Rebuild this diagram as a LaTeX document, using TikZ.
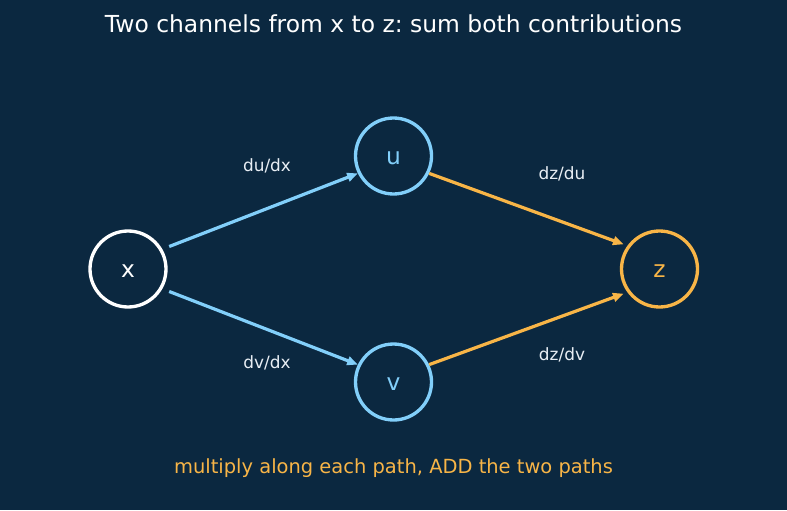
\documentclass[tikz,border=0pt]{standalone}
\usepackage{fontspec}
\setmainfont{DejaVu Sans}
\frenchspacing
\usetikzlibrary{arrows.meta}
\definecolor{navybg}{HTML}{0B2840}
\definecolor{skyline}{HTML}{82CFFA}
\definecolor{amberline}{HTML}{F8B547}
\definecolor{softwhite}{HTML}{E8EEF4}

\begin{document}
\begin{tikzpicture}[x=0.75pt,y=0.75pt,yscale=-1,xscale=1,
  var/.style={circle,draw,line width=2.5pt,minimum size=57pt,inner sep=0pt,text height=13.2pt,text depth=0pt,font=\fontsize{17.5}{21}\selectfont},
  chain/.style={line width=2.4pt,-{Triangle[length=8pt,width=6.5pt]}},
  lbl/.style={text=softwhite,font=\fontsize{12.7}{15}\selectfont}]
%set diagram left start at 0, and has height of 510
\fill [navybg] (0,0) rectangle (787,510) ;

% Text Node
\draw (393.5,24) node [text=white,font=\fontsize{17.55}{21}\selectfont] {Two channels from x to z: sum both contributions};

%Shape: Circle
\draw (128,269) node [var,draw=white,text=white] (x) {x};
%Shape: Circle
\draw (393.5,156) node [var,draw=skyline,text=skyline] (u) {u};
%Shape: Circle
\draw (393.5,382) node [var,draw=skyline,text=skyline] (v) {v};
%Shape: Circle
\draw (659.5,269) node [var,draw=amberline,text=amberline] (z) {z};

%Straight Lines
\draw [chain,skyline,shorten <=5.5pt] (x.30) -- (u.206) ;
%Straight Lines
\draw [chain,skyline,shorten <=5.5pt] (x.330) -- (v.154) ;
%Straight Lines
\draw [chain,amberline,shorten >=3pt] (u.334) -- (z.144) ;
%Straight Lines
\draw [chain,amberline,shorten >=3pt] (v.26) -- (z.216) ;

% Text Node
\draw (267,166) node [lbl] {du/dx};
% Text Node
\draw (267,363) node [lbl] {dv/dx};
% Text Node
\draw (562,174) node [lbl] {dz/du};
% Text Node
\draw (562,355) node [lbl] {dz/dv};

% Text Node
\draw (393.5,468.5) node [text=amberline,font=\fontsize{14.6}{18}\selectfont] {multiply along each path, ADD the two paths};

\end{tikzpicture}
\end{document}
